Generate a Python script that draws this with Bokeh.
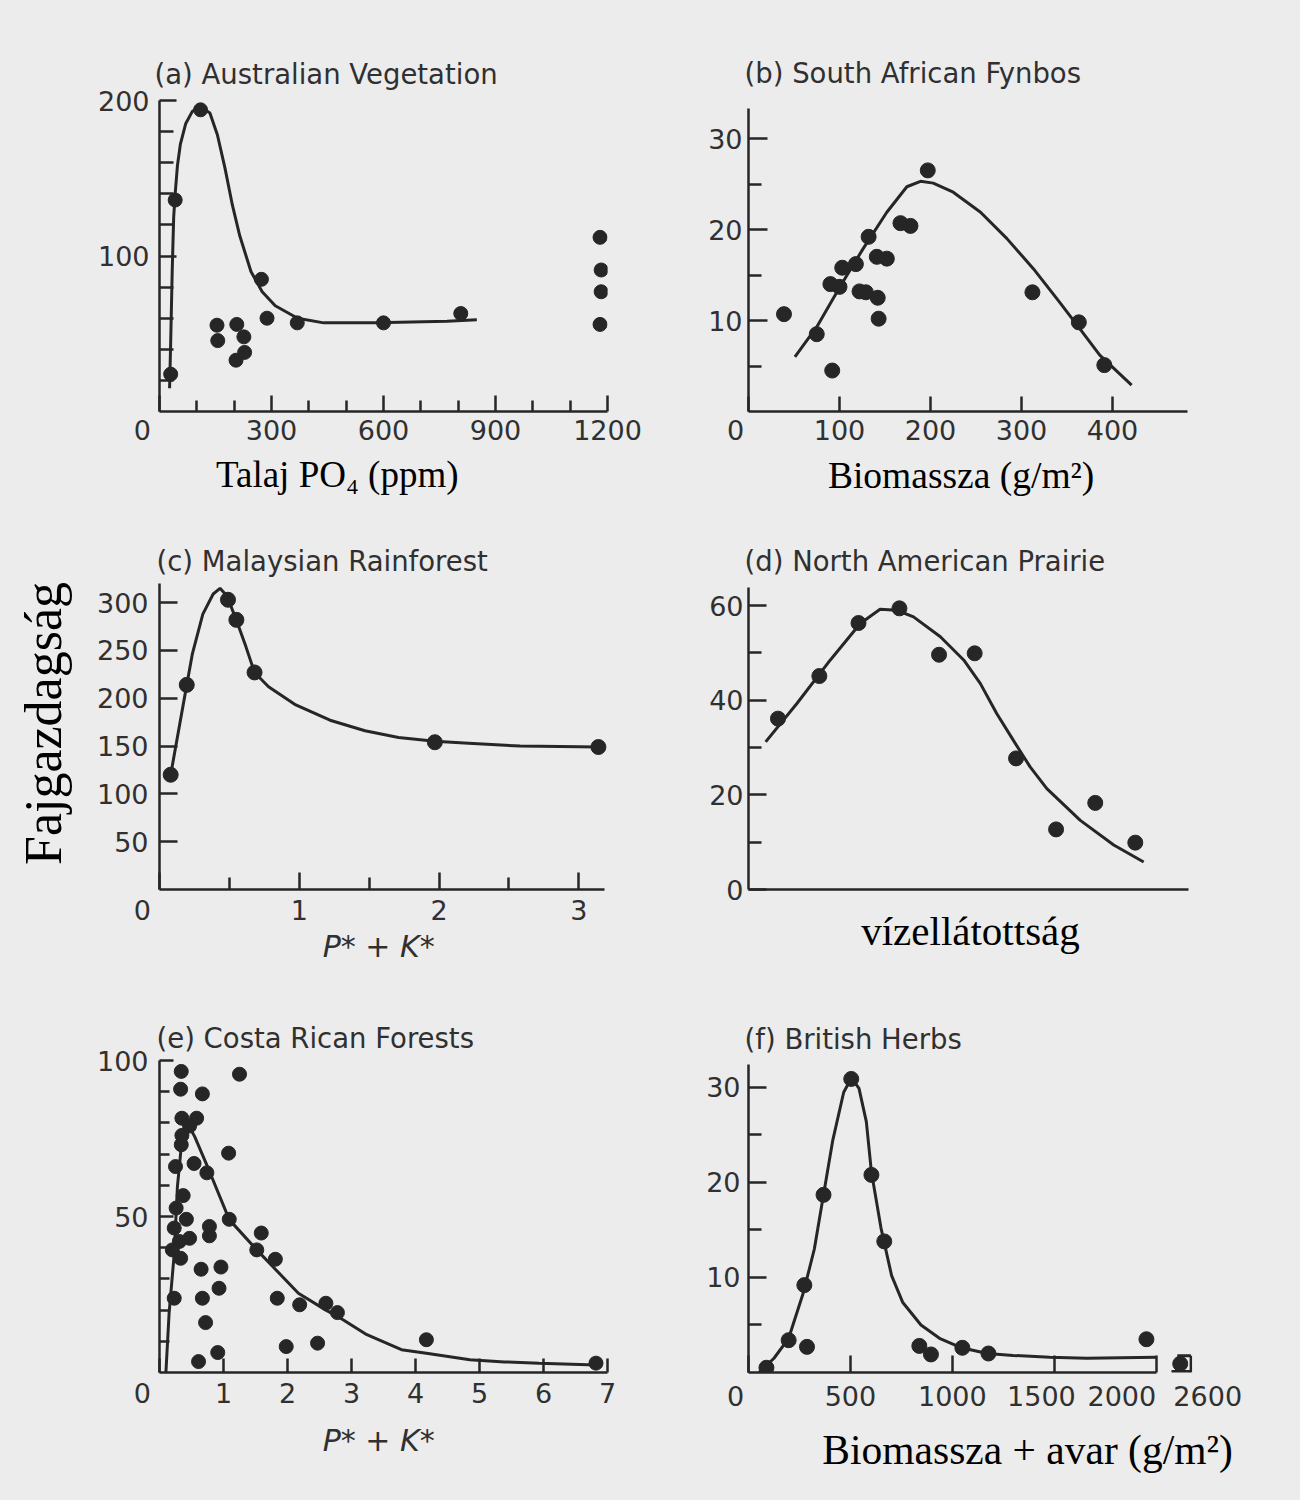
from bokeh.plotting import figure
from bokeh.models import Range1d, FixedTicker, Title
from bokeh.layouts import column, row
from bokeh.embed import file_html
from bokeh.resources import INLINE

# ---------------- data ----------------
# (a) Australian Vegetation : soil PO4 (ppm) vs species richness
a_x = [30, 42, 110, 154, 156, 207, 226, 205, 228, 273, 288, 369, 600, 807, 1180, 1183, 1183, 1180]
a_y = [24, 136, 194, 55.5, 45.6, 56, 48, 33, 38, 85, 60, 57, 57, 63, 112, 91, 77, 56]
ac_x = [27, 30, 34, 38, 42, 48, 56, 70, 88, 110, 135, 155, 175, 195, 215, 245, 275, 310, 370, 440, 580, 770, 850]
ac_y = [15, 45, 90, 125, 140, 158, 172, 185, 193, 196, 192, 178, 157, 133, 113, 90, 77, 68, 60, 57, 57, 58, 59]

# (b) South African Fynbos : biomass vs richness
b_x = [39, 75, 92, 90, 100, 103, 118, 122, 129, 132, 141, 152, 142, 143, 167, 178, 197, 312, 363, 391]
b_y = [10.7, 8.5, 4.5, 14.0, 13.7, 15.8, 16.2, 13.2, 13.1, 19.2, 17.0, 16.8, 12.5, 10.2, 20.7, 20.4, 26.5, 13.1, 9.8, 5.1]
bc_x = [51, 75, 101, 126, 152, 174, 189, 203, 225, 255, 284, 313, 342, 364, 386, 421]
bc_y = [6.0, 9.3, 13.8, 17.9, 21.9, 24.7, 25.3, 25.1, 24.1, 21.9, 19.0, 15.7, 12.0, 9.1, 6.2, 2.9]

# (c) Malaysian Rainforest : P*+K* vs richness
c_x = [0.08, 0.195, 0.49, 0.55, 0.68, 1.97, 3.14]
c_y = [120, 214, 303, 282, 227, 154, 149]
cc_x = [0.08, 0.195, 0.236, 0.31, 0.384, 0.433, 0.483, 0.549, 0.618, 0.68, 0.78, 0.975, 1.22, 1.47, 1.71, 1.97, 2.21, 2.58, 3.14]
cc_y = [120, 214, 247, 288, 309, 315, 307, 282, 254, 227, 212, 193, 177, 166, 159, 155, 153, 150, 149]

# (d) North American Prairie : water supply (relative units) vs richness
d_x = [6.7, 16.1, 25.0, 34.3, 43.3, 51.4, 60.8, 69.9, 78.8, 87.9]
d_y = [36.1, 45.1, 56.3, 59.4, 49.6, 49.9, 27.7, 12.7, 18.3, 9.9]
dc_x = [3.9, 11.0, 18.6, 25.4, 29.9, 33.7, 37.5, 43.6, 48.9, 52.7, 56.4, 60.2, 64.0, 67.8, 75.4, 83.0, 89.8]
dc_y = [31.2, 39.3, 48.5, 56.2, 59.2, 59.0, 57.6, 53.4, 48.5, 43.5, 37.2, 31.5, 25.9, 21.3, 14.6, 9.4, 5.8]

# (e) Costa Rican Forests : P*+K* vs richness
e_x = [0.34, 0.33, 0.67, 1.25, 0.35, 0.58, 0.47, 0.35, 0.34, 0.25, 0.54, 0.74, 1.08, 0.37, 0.26, 0.42,
       0.23, 0.47, 0.31, 0.20, 0.33, 0.78, 0.78, 1.09, 1.59, 1.52, 1.81, 0.65, 0.96, 0.93, 0.23, 0.67,
       0.72, 1.84, 2.19, 2.60, 2.78, 1.98, 2.47, 0.91, 0.61, 4.17, 6.82]
e_y = [96.5, 90.8, 89.3, 95.6, 81.5, 81.5, 79, 76, 73, 66, 67, 64, 70.3, 56.7, 52.7, 49.1,
       46.3, 43, 42, 39.3, 36.6, 46.8, 43.8, 49.1, 44.7, 39.3, 36.3, 33.1, 33.8, 27, 23.8, 23.8,
       16, 23.8, 21.7, 22.2, 19.2, 8.3, 9.4, 6.4, 3.5, 10.5, 3.0]
ec_x = [0.10, 0.15, 0.23, 0.28, 0.34, 0.39, 0.46, 0.55, 0.77, 1.09, 1.52, 2.17, 2.60, 2.78, 3.24, 3.78, 4.17, 4.85, 5.39, 5.93, 6.82]
ec_y = [0, 19, 38, 59.6, 72.4, 77.8, 79, 75.6, 65, 49, 39.3, 25.4, 20.0, 18.0, 12.1, 7.3, 6.2, 4.1, 3.4, 3.0, 2.4]

# (f) British Herbs : biomass + litter vs richness (broken axis after 2000)
f_x = [88, 197, 287, 274, 368, 504, 603, 666, 838, 895, 1049, 1177, 1952, 2490]
f_y = [0.5, 3.4, 2.7, 9.2, 18.7, 30.9, 20.8, 13.8, 2.8, 1.9, 2.6, 2.0, 3.5, 0.92]
fc_x = [52, 125, 197, 269, 323, 368, 413, 467, 505, 542, 578, 603, 650, 702, 756, 846, 937, 1045, 1171, 1298, 1478, 1659, 2000]
fc_y = [0, 1.5, 3.6, 8.4, 13, 18.7, 24.4, 29.5, 31, 29.9, 26.4, 21.1, 15.2, 10.2, 7.4, 5.0, 3.6, 2.6, 2.0, 1.8, 1.6, 1.5, 1.6]
fc2_x = [2460, 2600]
fc2_y = [1.75, 1.75]

# tick values
a_xticks = [0, 300, 600, 900, 1200]
a_xminor = [100, 200, 400, 500, 700, 800, 1000, 1100]
a_yticks = [100, 200]
a_yminor = [20, 40, 60, 80, 120, 140, 160, 180]
b_xticks = [0, 100, 200, 300, 400]
b_yticks = [10, 20, 30]
b_yminor = [5, 15, 25]
c_xticks = [0, 1, 2, 3]
c_xminor = [0.5, 1.5, 2.5]
c_yticks = [50, 100, 150, 200, 250, 300]
d_yticks = [0, 20, 40, 60]
d_yminor = [10, 30, 50]
e_xticks = [0, 1, 2, 3, 4, 5, 6, 7]
e_yticks = [50, 100]
e_yminor = [10, 20, 30, 40, 60, 70, 80, 90]
f_xticks = [0, 500, 1000, 1500, 2000]
f_yticks = [10, 20, 30]
f_yminor = [5, 15, 25]

# texts
T_A = "(a) Australian Vegetation"
T_B = "(b) South African Fynbos"
T_C = "(c) Malaysian Rainforest"
T_D = "(d) North American Prairie"
T_E = "(e) Costa Rican Forests"
T_F = "(f) British Herbs"
Y_NAME = "Fajgazdagság"
X_A = "Talaj PO\u2084 (ppm)"
X_B = "Biomassza (g/m\u00b2)"
X_PK = "P* + K*"
X_D = "vízellátottság"
X_F = "Biomassza + avar (g/m\u00b2)"

# broken-axis mapping for panel (f)
F_BREAK, F_RESUME, F_RESUME_DISP, F_K = 2000, 2400, 2075, 0.475


def f_disp(v):
    return v if v <= F_BREAK else F_RESUME_DISP + (v - F_RESUME) * F_K


NB = "\u00a0"
INK = "#262626"
TXT = "#303030"
BG = "#ececec"
SANS = "DejaVu Sans"
SERIF = "Liberation Serif"
TICK_SIZE = "27px"
TITLE_SIZE = "27.5px"


def make_fig(width, height, left, right, top, bottom, xr, yr):
    p = figure(width=width, height=height, x_range=Range1d(*xr), y_range=Range1d(*yr),
               min_border_left=left, min_border_right=right,
               min_border_top=top, min_border_bottom=bottom,
               toolbar_location=None, output_backend="svg", title=None)
    p.grid.visible = False
    p.outline_line_color = None
    p.background_fill_color = BG
    p.border_fill_color = BG
    for ax in (p.xaxis[0], p.yaxis[0]):
        ax.axis_line_color = INK
        ax.axis_line_width = 2.5
        ax.major_tick_line_color = INK
        ax.major_tick_line_width = 2.5
        ax.minor_tick_line_color = INK
        ax.minor_tick_line_width = 2.5
        ax.major_tick_out = 0
        ax.minor_tick_out = 0
        ax.major_label_text_font = SANS
        ax.major_label_text_font_size = TICK_SIZE
        ax.major_label_text_color = TXT
    return p


def set_ticks(ax, major, minor, maj_len, min_len, standoff, bounds=None):
    ax.ticker = FixedTicker(ticks=major, minor_ticks=minor)
    ax.major_tick_in = maj_len
    ax.minor_tick_in = min_len
    ax.major_label_standoff = standoff
    if bounds is not None:
        ax.bounds = bounds


def add_title(p, text, offset, standoff):
    p.add_layout(Title(text=text, align="left", offset=offset, standoff=standoff,
                       text_font=SANS, text_font_size=TITLE_SIZE, text_font_style="normal",
                       text_color=TXT), "above")


def x_name(p, text, font, size, standoff, color="black", style="normal"):
    ax = p.xaxis[0]
    ax.axis_label = text
    ax.axis_label_text_font = font
    ax.axis_label_text_font_size = size
    ax.axis_label_text_font_style = style
    ax.axis_label_text_color = color
    ax.axis_label_standoff = standoff


def draw(p, px, py, cx, cy, size=15):
    p.line(cx, cy, line_color=INK, line_width=3)
    p.scatter(px, py, size=size, fill_color=INK, line_color=INK)


# shared borders (frames in one row / column are aligned by the layout)
LW, RW = 680, 620          # column widths
H1, H2, H3 = 515, 470, 515  # row heights
L_LEFT, R_LEFT_COL = 159, 73
L_RIGHT, R_RIGHT_COL = 68, 108

# ---------------- (a) ----------------
pa = make_fig(LW, H1, L_LEFT, R_LEFT_COL, 100, 104, (0, 1200), (0, 200))
set_ticks(pa.xaxis[0], a_xticks, a_xminor, 16, 11, 3)
set_ticks(pa.yaxis[0], a_yticks, a_yminor, 17, 14, 10)
pa.xaxis[0].major_label_overrides = {0: "0" + NB * 4}
draw(pa, a_x, a_y, ac_x, ac_y, size=14)
add_title(pa, T_A, -5, 21)
x_name(pa, X_A + NB * 10, SERIF, "37px", 5)

# ---------------- (b) ----------------
pb = make_fig(RW, H1, L_RIGHT, R_RIGHT_COL, 100, 104, (0, 487.9), (0, 34.18))
set_ticks(pb.xaxis[0], b_xticks, [], 15, 0, 3, bounds=(0, 482))
set_ticks(pb.yaxis[0], b_yticks, b_yminor, 19, 13, 6, bounds=(0, 33.3))
pb.xaxis[0].major_label_overrides = {0: "0" + NB * 3}
draw(pb, b_x, b_y, bc_x, bc_y)
add_title(pb, T_B, -4, 23)
x_name(pb, X_B + NB * 2, SERIF, "37.5px", 6)

# ---------------- (c) ----------------
pc = make_fig(LW, H2, L_LEFT, R_LEFT_COL, 68, 96, (0, 3.205), (0, 320))
set_ticks(pc.xaxis[0], c_xticks, c_xminor, 17, 12, 5, bounds=(0, 3.18))
set_ticks(pc.yaxis[0], c_yticks, [], 18, 0, 11)
pc.xaxis[0].major_label_overrides = {0: "0" + NB * 4}
draw(pc, c_x, c_y, cc_x, cc_y)
add_title(pc, T_C, -3, 14)
x_name(pc, X_PK + NB, SANS, "30px", 0, color=TXT, style="italic")
yax = pc.yaxis[0]
yax.axis_label = NB * 2 + Y_NAME
yax.axis_label_text_font = SERIF
yax.axis_label_text_font_size = "52px"
yax.axis_label_text_font_style = "normal"
yax.axis_label_text_color = "black"
yax.axis_label_standoff = 22

# ---------------- (d) ----------------
pd_ = make_fig(RW, H2, L_RIGHT, R_RIGHT_COL, 68, 96, (0, 100.9), (0, 64.65))
set_ticks(pd_.xaxis[0], [], [], 0, 0, 0, bounds=(0, 100))
set_ticks(pd_.yaxis[0], d_yticks, d_yminor, 18, 13, 5, bounds=(0, 63.9))
draw(pd_, d_x, d_y, dc_x, dc_y)
add_title(pd_, T_D, -4, 14)
x_name(pd_, X_D, SERIF, "41px", 18)

# ---------------- (e) ----------------
pe = make_fig(LW, H3, L_LEFT, R_LEFT_COL, 75, 128, (0, 7.0), (0, 100))
set_ticks(pe.xaxis[0], e_xticks, [], 14, 0, 5)
set_ticks(pe.yaxis[0], e_yticks, e_yminor, 14, 10, 11)
pe.xaxis[0].major_label_overrides = {0: "0" + NB * 4}
draw(pe, e_x, e_y, ec_x, ec_y, size=14)
add_title(pe, T_E, -3, 14)
x_name(pe, X_PK + NB, SANS, "30px", 11, color=TXT, style="italic")

# ---------------- (f) ----------------
pf = make_fig(RW, H3, L_RIGHT, R_RIGHT_COL, 75, 128, (0, 2178), (0, 32.84))
set_ticks(pf.xaxis[0], f_xticks, [], 17, 0, 8, bounds=(0, F_BREAK))
pf.xaxis[0].major_label_overrides = {
    0: "0" + NB * 3,
    1500: "1500" + NB * 3,
    2000: NB * 2 + "2000" + NB * 2 + "2600",
}
set_ticks(pf.yaxis[0], f_yticks, f_yminor, 18, 13, 8, bounds=(0, 32.4))
pf.line([f_disp(v) for v in fc_x], fc_y, line_color=INK, line_width=3)
pf.line([f_disp(v) for v in fc2_x], fc2_y, line_color=INK, line_width=3)
pf.segment(x0=[f_disp(F_RESUME)], y0=[0], x1=[f_disp(2600)], y1=[0], line_color=INK, line_width=5)
pf.segment(x0=[f_disp(2600)], y0=[0], x1=[f_disp(2600)], y1=[fc2_y[-1]], line_color=INK, line_width=2.5)
pf.scatter([f_disp(v) for v in f_x], f_y, size=15, fill_color=INK, line_color=INK)
add_title(pf, T_F, -4, 12)
x_name(pf, NB * 11 + X_F, SERIF, "41.5px", 12)

bgs = {"background-color": BG}
layout = column(row(pa, pb, styles=bgs), row(pc, pd_, styles=bgs), row(pe, pf, styles=bgs), styles=bgs)
open("out.html", "w").write(file_html(layout, INLINE))
